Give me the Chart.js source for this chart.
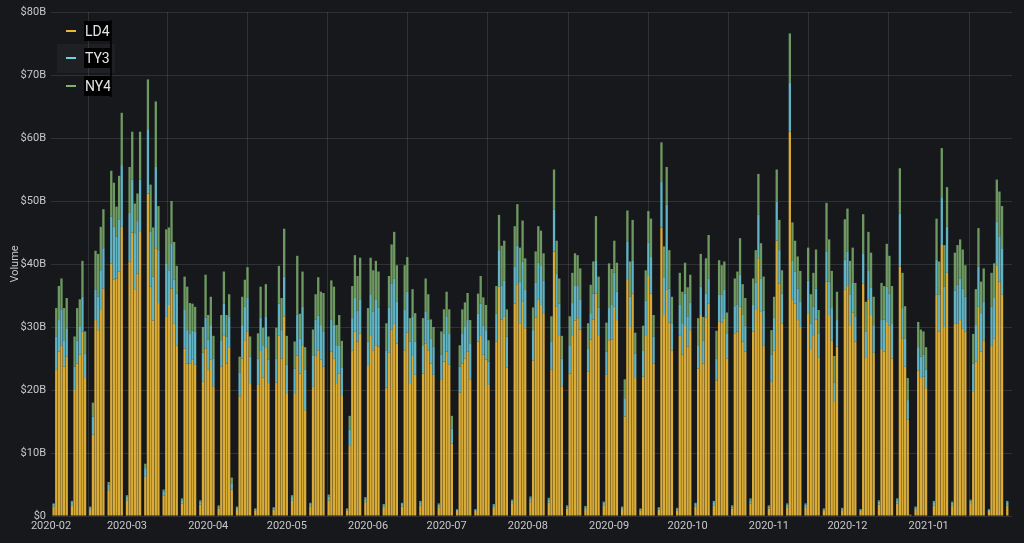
<!DOCTYPE html>
<html>
<head>
<meta charset="utf-8">
<script src="https://cdn.jsdelivr.net/npm/chart.js@4.4.1/dist/chart.umd.min.js"></script>
<style>
  html, body { margin: 0; padding: 0; background: #17181c; }
  #wrap { width: 1024px; height: 543px; position: relative; }
</style>
</head>
<body>
<div id="wrap"><canvas id="volume-graph"></canvas></div>
<script>
// one row per week: Sat, Sun, Mon, Tue, Wed, Thu, Fri  (day 0 = 2020-02-01), values in $B
var ld4 = [
  0, 1.5, 23.2, 26.1, 27.1, 23.7, 25.3,
  0, 1.7, 20.0, 24.2, 25.6, 29.3, 21.9,
  0, 1.1, 12.9, 31.1, 29.5, 32.7, 36.1,
  0, 4.1, 40.1, 37.5, 37.7, 38.8, 45.9,
  0, 2.4, 40.4, 45.0, 36.0, 38.5, 45.1,
  0, 6.2, 51.2, 36.4, 31.0, 42.5, 33.8,
  0, 3.2, 31.6, 33.5, 36.1, 30.6, 27.1,
  0, 2.0, 26.6, 24.2, 24.2, 24.8, 24.0,
  0, 1.8, 21.3, 26.6, 23.2, 24.8, 20.6,
  0, 1.2, 23.7, 28.6, 24.2, 26.8, 4.2,
  0, 1.1, 19.0, 25.0, 27.9, 29.3, 21.1,
  0, 0.9, 20.8, 26.2, 22.0, 26.8, 21.1,
  0, 1.0, 21.2, 28.6, 25.0, 31.7, 19.5,
  0, 2.4, 19.5, 25.5, 22.6, 27.1, 16.8,
  0, 1.5, 20.5, 25.5, 26.3, 24.8, 23.7,
  0, 2.5, 26.1, 25.0, 21.1, 22.6, 19.2,
  0, 0.9, 11.1, 26.3, 29.3, 27.7, 29.0,
  0, 2.2, 23.8, 28.7, 26.3, 27.0, 26.9,
  0, 1.4, 20.4, 25.9, 29.6, 30.6, 27.4,
  0, 1.5, 26.3, 29.1, 21.1, 25.4, 22.4,
  0, 1.7, 22.6, 27.4, 26.3, 24.2, 22.4,
  0, 1.4, 21.6, 24.5, 26.1, 24.0, 11.5,
  0, 0.8, 19.6, 24.2, 25.0, 26.1, 21.6,
  0, 0.8, 27.7, 28.7, 25.6, 24.8, 20.8,
  0, 1.4, 27.7, 36.4, 31.2, 31.6, 23.6,
  0, 1.9, 33.7, 36.8, 30.6, 34.0, 29.8,
  0, 2.2, 24.7, 31.5, 34.4, 33.5, 32.2,
  0, 2.1, 23.2, 42.0, 33.2, 28.7, 20.6,
  0, 1.2, 22.6, 28.7, 31.0, 31.4, 29.6,
  0, 1.1, 22.9, 28.0, 31.2, 35.3, 28.7,
  0, 1.6, 22.4, 27.9, 28.0, 33.2, 31.1,
  0, 1.1, 15.8, 37.6, 30.0, 35.3, 21.9,
  0, 0.9, 22.1, 28.7, 38.1, 35.3, 24.2,
  0, 1.0, 45.8, 31.9, 35.9, 30.7, 26.3,
  0, 0.9, 28.6, 25.6, 30.3, 26.9, 29.5,
  0, 1.5, 23.4, 31.9, 24.2, 31.5, 33.7,
  0, 1.7, 21.5, 30.8, 30.7, 31.4, 25.0,
  0, 1.2, 29.0, 29.3, 33.2, 27.7, 26.1,
  0, 2.0, 29.3, 32.7, 40.9, 32.4, 27.0,
  0, 1.2, 21.3, 26.3, 43.7, 36.9, 30.6,
  0, 1.4, 61.0, 34.4, 33.7, 31.1, 30.0,
  0, 1.4, 32.2, 26.5, 28.7, 31.2, 25.2,
  0, 0.9, 37.2, 31.9, 27.8, 18.1, 26.9,
  0, 0.9, 35.9, 36.5, 30.3, 32.3, 27.7,
  0, 0.8, 36.9, 25.2, 34.4, 31.9, 25.9,
  0, 1.8, 26.5, 26.1, 30.8, 30.2, 25.0,
  0, 2.0, 39.6, 28.2, 23.7, 15.3, 0.2,
  0, 1.1, 23.1, 21.9, 22.1, 20.3, 0,
  0, 1.7, 35.1, 29.3, 43.0, 30.0, 38.6,
  0, 1.6, 30.5, 30.6, 31.1, 29.8, 29.3,
  0, 1.9, 19.7, 24.5, 33.2, 26.1, 27.9,
  0, 0.8, 27.0, 28.2, 39.8, 37.2, 35.1,
  0, 1.7
];

var ty3 = [
  0, 0.4, 5.3, 5.0, 5.6, 4.2, 4.5,
  0, 0.5, 3.7, 3.6, 4.4, 5.5, 3.9,
  0, 0.3, 2.9, 4.8, 5.3, 6.3, 6.4,
  0, 0.9, 7.4, 8.4, 6.6, 8.2, 9.8,
  0, 0.6, 7.7, 8.4, 8.9, 8.3, 8.3,
  0, 1.4, 10.2, 8.7, 7.0, 12.9, 8.4,
  0, 0.7, 8.5, 5.5, 7.2, 6.9, 8.2,
  0, 0.5, 6.1, 5.3, 4.8, 4.6, 5.3,
  0, 0.5, 4.6, 4.9, 4.8, 5.5, 4.4,
  0, 0.3, 4.2, 5.1, 4.3, 4.9, 1.0,
  0, 0.3, 3.8, 5.3, 5.3, 5.4, 4.2,
  0, 0.2, 4.2, 5.3, 5.1, 4.9, 3.7,
  0, 0.3, 3.8, 5.1, 4.5, 6.3, 4.5,
  0, 0.6, 3.9, 6.5, 5.6, 6.1, 6.4,
  0, 0.4, 4.9, 5.7, 5.5, 5.5, 5.6,
  0, 0.6, 5.1, 5.3, 6.0, 4.4, 4.4,
  0, 0.2, 2.6, 5.1, 5.4, 4.9, 5.4,
  0, 0.5, 3.9, 6.5, 6.1, 7.4, 6.2,
  0, 0.3, 5.9, 7.2, 7.3, 7.1, 6.6,
  0, 0.4, 6.5, 6.5, 6.6, 6.3, 5.3,
  0, 0.5, 4.5, 5.0, 4.9, 4.0, 4.5,
  0, 0.4, 4.0, 4.4, 5.6, 4.9, 2.4,
  0, 0.2, 4.1, 4.7, 5.0, 5.0, 5.8,
  0, 0.2, 4.4, 5.0, 4.6, 4.7, 3.7,
  0, 0.3, 4.4, 5.8, 5.3, 5.8, 4.9,
  0, 0.5, 5.9, 6.1, 6.6, 6.4, 6.1,
  0, 0.6, 4.8, 5.5, 5.8, 6.3, 5.2,
  0, 0.5, 4.5, 6.6, 5.3, 5.0, 4.4,
  0, 0.3, 4.5, 5.1, 5.5, 5.1, 4.7,
  0, 0.3, 3.6, 4.2, 4.1, 5.3, 4.4,
  0, 0.5, 3.7, 5.1, 5.5, 5.4, 4.5,
  0, 0.3, 2.9, 5.9, 4.8, 5.3, 3.9,
  0, 0.2, 4.1, 5.5, 5.3, 5.8, 4.3,
  0, 0.3, 7.3, 6.0, 13.5, 5.4, 4.3,
  0, 0.3, 4.9, 5.0, 5.0, 4.8, 4.4,
  0, 0.4, 3.7, 4.5, 3.6, 3.8, 4.0,
  0, 0.5, 3.5, 4.3, 4.4, 4.5, 3.9,
  0, 0.3, 4.3, 4.2, 5.1, 4.2, 4.1,
  0, 0.5, 4.2, 4.3, 6.9, 5.3, 5.6,
  0, 0.3, 4.3, 5.2, 6.2, 5.3, 4.7,
  0, 0.4, 7.8, 6.1, 5.1, 5.0, 4.0,
  0, 0.4, 5.2, 4.0, 4.5, 4.9, 3.8,
  0, 0.2, 4.8, 5.3, 5.2, 3.1, 4.2,
  0, 0.3, 4.8, 5.5, 4.9, 4.7, 4.0,
  0, 0.2, 4.8, 4.1, 4.6, 4.4, 4.4,
  0, 0.5, 4.6, 5.1, 5.6, 5.1, 5.6,
  0, 0.5, 8.4, 4.8, 4.5, 3.1, 0,
  0, 0.3, 3.7, 3.4, 3.5, 2.9, 0,
  0, 0.5, 5.6, 5.8, 7.6, 6.4, 7.3,
  0, 0.5, 5.3, 6.1, 6.6, 6.3, 5.5,
  0, 0.5, 4.5, 5.8, 6.4, 6.1, 6.1,
  0, 0.2, 6.2, 6.4, 6.9, 7.2, 7.4,
  0, 0.5
];

var ny4 = [
  0, 0.1, 4.5, 5.4, 5.0, 5.1, 4.8,
  0, 0.2, 4.8, 5.2, 4.4, 5.7, 3.5,
  0, 0.1, 2.2, 6.2, 6.8, 6.9, 6.2,
  0, 0.4, 7.3, 7.0, 4.8, 7.0, 8.3,
  0, 0.3, 7.3, 7.6, 4.7, 4.4, 7.6,
  0, 0.7, 7.9, 7.5, 7.8, 10.4, 7.0,
  0, 0.3, 5.4, 6.8, 6.7, 6.0, 4.4,
  0, 0.3, 5.3, 6.9, 4.8, 4.3, 3.9,
  0, 0.2, 4.1, 6.8, 3.9, 4.5, 3.6,
  0, 0.2, 4.0, 5.1, 3.4, 3.5, 0.9,
  0, 0.1, 2.5, 4.5, 4.3, 4.8, 3.2,
  0, 0.1, 4.0, 4.9, 2.8, 5.1, 3.7,
  0, 0.1, 4.9, 6.0, 5.1, 7.6, 4.6,
  0, 0.3, 4.3, 9.3, 3.9, 5.6, 3.6,
  0, 0.2, 4.2, 4.0, 6.1, 5.3, 6.1,
  0, 0.3, 6.2, 6.1, 3.2, 4.9, 4.2,
  0, 0.1, 2.2, 5.1, 6.7, 5.5, 6.6,
  0, 0.3, 5.3, 5.8, 6.6, 6.1, 5.7,
  0, 0.2, 4.3, 5.0, 6.2, 7.4, 5.8,
  0, 0.2, 7.0, 5.5, 3.7, 4.3, 4.5,
  0, 0.2, 4.3, 5.3, 4.0, 3.0, 3.1,
  0, 0.2, 3.7, 3.9, 3.9, 3.9, 2.0,
  0, 0.1, 3.4, 3.9, 3.9, 4.3, 3.7,
  0, 0.1, 3.2, 4.4, 4.5, 4.0, 3.4,
  0, 0.2, 4.4, 5.6, 6.4, 6.3, 4.3,
  0, 0.2, 6.4, 6.6, 5.4, 6.5, 5.0,
  0, 0.3, 3.6, 5.0, 5.8, 5.5, 4.3,
  0, 0.3, 4.0, 6.4, 5.2, 4.0, 3.6,
  0, 0.2, 4.6, 4.8, 5.2, 4.9, 5.0,
  0, 0.2, 4.1, 4.5, 5.1, 7.0, 4.9,
  0, 0.2, 4.6, 7.1, 5.7, 5.1, 4.6,
  0, 0.1, 3.0, 5.0, 5.6, 6.4, 3.3,
  0, 0.1, 4.0, 4.8, 5.0, 6.1, 3.4,
  0, 0.1, 6.2, 4.9, 6.0, 6.1, 4.2,
  0, 0.1, 5.1, 5.0, 4.9, 4.6, 4.4,
  0, 0.2, 4.3, 5.2, 3.8, 5.6, 6.9,
  0, 0.2, 4.4, 5.5, 4.7, 4.5, 3.4,
  0, 0.2, 4.4, 5.3, 5.8, 4.9, 4.4,
  0, 0.3, 4.2, 5.2, 6.5, 5.6, 5.4,
  0, 0.2, 3.9, 3.3, 5.1, 4.8, 3.7,
  0, 0.2, 7.8, 6.1, 4.9, 5.1, 4.9,
  0, 0.2, 5.2, 4.7, 5.4, 6.2, 3.7,
  0, 0.1, 7.7, 6.7, 5.9, 4.2, 4.5,
  0, 0.1, 6.4, 6.8, 5.3, 5.6, 5.3,
  0, 0.1, 6.2, 4.7, 6.1, 5.5, 4.5,
  0, 0.2, 5.9, 5.3, 6.8, 6.0, 5.9,
  0, 0.3, 7.2, 5.6, 5.1, 3.5, 0,
  0, 0.1, 4.0, 4.3, 3.7, 3.6, 0,
  0, 0.2, 6.5, 5.3, 7.8, 6.6, 6.3,
  0, 0.2, 6.0, 6.3, 6.2, 6.2, 5.0,
  0, 0.2, 4.7, 5.7, 6.1, 5.0, 5.3,
  0, 0.1, 5.4, 5.5, 6.7, 7.1, 6.7,
  0, 0.2
];

// month starts, as day numbers from 2020-02-01
var monthDays = [0, 29, 60, 90, 121, 151, 182, 213, 243, 274, 304, 335];
var monthLabels = ['2020-02', '2020-03', '2020-04', '2020-05', '2020-06', '2020-07',
                   '2020-08', '2020-09', '2020-10', '2020-11', '2020-12', '2021-01'];

var yTicks = [0, 10, 20, 30, 40, 50, 60, 70, 80];

var colors = { LD4: '#EAB839', TY3: '#6ED0E0', NY4: '#7EB26D' };
var textColor = '#c7c8cc';
var gridColor = 'rgba(255,255,255,0.11)';

function points(arr) {
    return arr.map(function (v, i) { return { x: i, y: v }; });
}

function fade(hex, a) {
    var n = parseInt(hex.slice(1), 16);
    return 'rgba(' + (n >> 16) + ',' + ((n >> 8) & 255) + ',' + (n & 255) + ',' + a + ')';
}

// legend drawn inside the plot, top left
var cornerLegend = {
    id: 'cornerLegend',
    afterDraw: function (chart) {
        var c = chart.ctx;
        var rows = [['LD4', 31], ['TY3', 58], ['NY4', 86]];
        c.save();
        c.fillStyle = 'rgba(255,255,255,0.035)';
        c.fillRect(57, 44, 58, 29);
        c.font = '14px Roboto';
        c.textBaseline = 'middle';
        rows.forEach(function (r) {
            c.strokeStyle = colors[r[0]];
            c.lineWidth = 2;
            c.beginPath();
            c.moveTo(66, r[1]);
            c.lineTo(76, r[1]);
            c.stroke();
            c.fillStyle = '#000';
            c.fillRect(84, r[1] - 10, 27, 20);
            c.fillStyle = '#e4e5e8';
            c.fillText(r[0], 85, r[1] + 1);
        });
        c.strokeStyle = '#000';
        c.lineWidth = 1.5;
        c.beginPath();
        c.moveTo(111, 20);
        c.lineTo(111, 97);
        c.stroke();
        c.restore();
    }
};

var ctx = document.getElementById('volume-graph').getContext('2d');
var myChart = new Chart(ctx, {
    type: 'bar',
    data: {
        datasets: [
            { label: 'LD4', data: points(ld4), backgroundColor: fade(colors.LD4, 0.92) },
            { label: 'TY3', data: points(ty3), backgroundColor: fade(colors.TY3, 0.85) },
            { label: 'NY4', data: points(ny4), backgroundColor: fade(colors.NY4, 0.85) }
        ]
    },
    options: {
        responsive: true,
        maintainAspectRatio: false,
        animation: false,
        barPercentage: 0.88,
        categoryPercentage: 1,
        layout: { padding: { top: 12, right: 12, left: 0, bottom: 0 } },
        scales: {
            x: {
                type: 'linear',
                stacked: true,
                offset: false,
                min: 0,
                max: 366.8,
                border: { display: false },
                grid: { color: gridColor, drawTicks: false },
                afterBuildTicks: function (s) {
                    s.ticks = monthDays.map(function (d) { return { value: d }; });
                },
                afterFit: function (s) { s.height = 27; },
                ticks: {
                    color: textColor,
                    font: { family: 'Roboto', size: 11 },
                    padding: 4,
                    maxRotation: 0,
                    autoSkip: false,
                    callback: function (v) {
                        var i = monthDays.indexOf(v);
                        return i >= 0 ? monthLabels[i] : null;
                    }
                }
            },
            y: {
                stacked: true,
                min: 0,
                max: 80,
                border: { display: false },
                grid: { color: gridColor, drawTicks: false },
                afterBuildTicks: function (s) {
                    s.ticks = yTicks.map(function (v) { return { value: v }; });
                },
                afterFit: function (s) { s.width = 51; },
                title: {
                    display: true,
                    text: 'Volume',
                    color: textColor,
                    font: { family: 'Roboto', size: 11 },
                    padding: { top: 9, bottom: 0 }
                },
                ticks: {
                    color: textColor,
                    font: { family: 'Roboto', size: 11 },
                    padding: 5,
                    callback: function (v) { return v === 0 ? '$0' : '$' + v + 'B'; }
                }
            }
        },
        plugins: {
            legend: { display: false },
            tooltip: { enabled: false }
        }
    },
    plugins: [cornerLegend]
});
</script>
</body>
</html>
